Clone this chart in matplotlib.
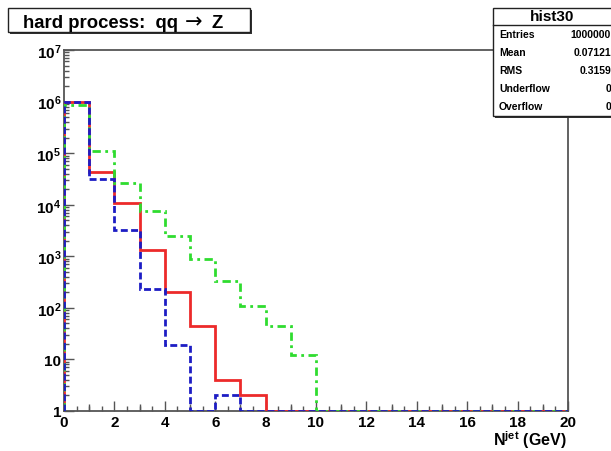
import matplotlib
matplotlib.use("Agg")
import matplotlib.pyplot as plt
import numpy as np
from matplotlib.patches import Rectangle
from matplotlib.ticker import FixedLocator, FixedFormatter, LogLocator, MultipleLocator, NullFormatter

plt.rcParams["font.family"] = ["Liberation Sans", "DejaVu Sans"]
plt.rcParams["font.weight"] = "bold"
plt.rcParams["mathtext.fontset"] = "custom"
plt.rcParams["mathtext.rm"] = "Liberation Sans:bold"
plt.rcParams["mathtext.bf"] = "Liberation Sans:bold"
plt.rcParams["mathtext.it"] = "Liberation Sans:bold"

W, H = 611, 452

# bin edges 0..20, one bin per unit; zero bins are drawn at the axis minimum
EDGES = np.arange(0, 21)
RED   = [9.6e5, 4.4e4, 1.1e4, 1.3e3, 200, 45, 4, 2, 0, 0,
         0, 0, 0, 0, 0, 0, 0, 0, 0, 0]
GREEN = [8.5e5, 1.1e5, 2.6e4, 7.4e3, 2.5e3, 870, 330, 110, 45, 12,
         0, 0, 0, 0, 0, 0, 0, 0, 0, 0]
BLUE  = [9.8e5, 3.2e4, 3.3e3, 230, 19, 0, 2, 0, 0, 0,
         0, 0, 0, 0, 0, 0, 0, 0, 0, 0]

YTICKS  = [1, 10, 1e2, 1e3, 1e4, 1e5, 1e6, 1e7]
YLABELS = ["1", "10", r"$10^{2}$", r"$10^{3}$", r"$10^{4}$",
           r"$10^{5}$", r"$10^{6}$", r"$10^{7}$"]

STATS_NAMES  = ["Entries", "Mean", "RMS", "Underflow", "Overflow"]
STATS_VALUES = ["1000000", "0.07121", "0.3159", "0", "0"]

YMIN, YMAX = 1, 1e7


def fx(px):
    return px / W


def fy(py):
    return 1 - py / H


fig = plt.figure(figsize=(W / 100, H / 100), dpi=100)
ax = fig.add_axes([fx(64), fy(412), fx(568) - fx(64), fy(51) - fy(412)])

def clip(v):
    return np.maximum(np.asarray(v, dtype=float), YMIN)

ax.stairs(clip(RED), EDGES, baseline=YMIN, color="#ec2a2a", lw=2.0, zorder=3)
ax.stairs(clip(GREEN), EDGES, baseline=YMIN, color="#2fdc2f", lw=2.0,
          ls=(0, (3, 1.6, 1, 1.6)), zorder=4)
ax.stairs(clip(BLUE), EDGES, baseline=YMIN, color="#1d1dc4", lw=2.0,
          ls=(0, (2.5, 1.2)), zorder=5)

ax.set_yscale("log")
ax.set_xlim(0, 20)
ax.set_ylim(YMIN, YMAX)

ax.yaxis.set_major_locator(FixedLocator(YTICKS))
ax.yaxis.set_major_formatter(FixedFormatter(YLABELS))
ax.yaxis.set_minor_locator(LogLocator(base=10, subs=np.arange(2, 10), numticks=20))
ax.yaxis.set_minor_formatter(NullFormatter())
ax.xaxis.set_major_locator(MultipleLocator(2))
ax.xaxis.set_minor_locator(MultipleLocator(0.5))

ax.tick_params(which="both", direction="in", top=False, right=False,
               color="#555555", width=1.0)
ax.tick_params(which="major", length=7, labelsize=11, pad=3)
ax.tick_params(which="minor", length=3.5)
ax.tick_params(axis="y", which="major", pad=2)

# medium ticks at odd integers, as the ROOT axis draws them
sec = ax.secondary_xaxis("bottom")
sec.set_xticks(np.arange(1, 20, 2))
sec.tick_params(direction="in", length=5, color="#555555", width=1.0, labelbottom=False)
sec.spines["bottom"].set_visible(False)

for sp in ax.spines.values():
    sp.set_color("#555555")
    sp.set_linewidth(1.3)

fig.text(fx(567), fy(446), r"$\mathregular{N^{jet}}$ (GeV)", ha="right", va="baseline",
         fontsize=11.5, fontweight="bold")

# title box with shadow
fig.patches.append(Rectangle((fx(10), fy(35)), fx(242), fy(0) - fy(24),
                             transform=fig.transFigure, facecolor="#333333",
                             edgecolor="none", zorder=9))
fig.patches.append(Rectangle((fx(8), fy(33)), fx(242), fy(0) - fy(24),
                             transform=fig.transFigure, facecolor="white",
                             edgecolor="#222222", lw=1.0, zorder=10))
fig.text(fx(23), fy(28), "hard process:  qq", ha="left", va="baseline",
         fontsize=13.3, fontweight="bold", zorder=11)
fig.text(fx(194), fy(28), "\u2192", ha="center", va="baseline", family="DejaVu Sans",
         fontsize=15, fontweight="normal", zorder=11)
fig.text(fx(212), fy(28), "Z", ha="left", va="baseline",
         fontsize=13.3, fontweight="bold", zorder=11)

# stats box
fig.patches.append(Rectangle((fx(495), fy(119)), fx(140), fy(0) - fy(110),
                             transform=fig.transFigure, facecolor="#333333",
                             edgecolor="none", zorder=9))
fig.patches.append(Rectangle((fx(493), fy(117)), fx(140), fy(0) - fy(108),
                             transform=fig.transFigure, facecolor="white",
                             edgecolor="#222222", lw=1.0, zorder=10))
fig.add_artist(plt.Line2D([fx(493), fx(611)], [fy(26), fy(26)],
                          transform=fig.transFigure, color="#222222", lw=1.0, zorder=11))
fig.text(fx(552), fy(17), "hist30", ha="center", va="center",
         fontsize=11, fontweight="bold", zorder=12)
for i, (name, val) in enumerate(zip(STATS_NAMES, STATS_VALUES)):
    y = fy(35 + i * 18)
    fig.text(fx(499), y, name, ha="left", va="center", fontsize=7.5, fontweight="bold", zorder=12)
    fig.text(fx(611), y, val, ha="right", va="center", fontsize=7.5, fontweight="bold", zorder=12)

fig.savefig("out.png", dpi=100)
